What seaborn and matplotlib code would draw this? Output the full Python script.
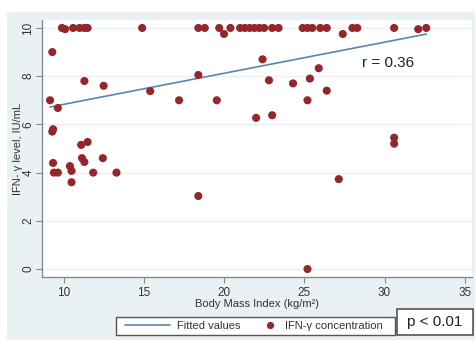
import numpy as np
import pandas as pd
import matplotlib
matplotlib.use("Agg")
import matplotlib.pyplot as plt
from matplotlib.patches import Rectangle
from matplotlib.lines import Line2D
from matplotlib.legend_handler import HandlerBase
import seaborn as sns

# ---- data ----
bmi = [9.9, 10.1, 10.6, 11.0, 11.3, 11.5, 14.9, 18.4, 18.8, 19.7, 20.0, 20.4, 21.0, 21.3,
       21.6, 21.9, 22.2, 22.5, 23.0, 23.4, 24.9, 25.2, 25.5, 26.0, 26.4, 27.4, 28.0, 28.3,
       30.6, 32.1, 32.6,
       9.3, 9.16, 9.65, 11.3, 12.5, 9.35, 9.3, 11.1, 11.5, 9.35, 11.15, 11.3, 12.45, 10.4,
       10.5, 9.4, 9.65, 11.85, 13.3, 10.5, 18.4, 15.4, 17.2, 18.4, 19.55, 22.4, 25.9, 22.8,
       24.3, 25.35, 26.4, 25.2, 22.0, 23.0, 30.6, 30.6, 27.15, 25.2]
ifn = [10.0, 9.95, 10.0, 10.0, 10.0, 10.0, 10.0, 10.0, 10.0, 10.0, 9.75, 10.0, 10.0, 10.0,
       10.0, 10.0, 10.0, 10.0, 10.0, 10.0, 10.0, 10.0, 10.0, 10.0, 10.0, 9.75, 10.0, 10.0,
       10.0, 9.95, 10.0,
       9.0, 7.0, 6.68, 7.8, 7.6, 5.8, 5.7, 5.15, 5.27, 4.4, 4.6, 4.44, 4.6, 4.27,
       4.07, 4.0, 4.0, 4.0, 4.0, 3.6, 3.03, 7.38, 7.0, 8.05, 7.0, 8.7, 8.33, 7.83,
       7.7, 7.9, 7.4, 7.0, 6.27, 6.38, 5.45, 5.2, 3.73, 0.0]
# fitted line
fit_intercept = 5.54
fit_slope = 0.129
x_ticks = [10, 15, 20, 25, 30, 35]
y_ticks = [0, 2, 4, 6, 8, 10]
legend_labels = ["Fitted values", "IFN-γ concentration"]
r_label = "r = 0.36"
p_label = "p < 0.01"

df = pd.DataFrame({"bmi": bmi, "ifn": ifn})
fit = pd.DataFrame({"bmi": [df["bmi"].min(), df["bmi"].max()]})
fit["ifn"] = fit_intercept + fit_slope * fit["bmi"]

sns.set_theme(style="white")
plt.rcParams["font.family"] = ["Liberation Sans", "DejaVu Sans"]

W, H = 477, 342
fig = plt.figure(figsize=(W / 100, H / 100), dpi=100, facecolor="white")
bg = Rectangle((7 / W, 2 / H), 468 / W, 328 / H, transform=fig.transFigure,
               facecolor="#eaf1f4", edgecolor="none", zorder=-10)
fig.patches.append(bg)

ax = fig.add_axes([42 / W, 1 - 277 / H, 430 / W, 257 / H])
ax.set_facecolor("white")

dot_color = "#94262c"
line_color = "#5a86ad"

for yv in y_ticks:
    ax.axhline(yv, color="#e8f0f3", lw=1.0, zorder=0)

sns.lineplot(data=fit, x="bmi", y="ifn", ax=ax, color=line_color, lw=1.2, zorder=2)
sns.scatterplot(data=df, x="bmi", y="ifn", ax=ax, color=dot_color, s=34,
                edgecolor="none", zorder=3)

ax.set_xlim(8.66, 35.45)
ax.set_ylim(-0.33, 10.33)
ax.set_xticks(x_ticks)
ax.set_yticks(y_ticks)
ax.set_xticklabels([str(t) for t in x_ticks], fontsize=8.5, color="#333333")
ax.set_yticklabels([str(t) for t in y_ticks], fontsize=8.5, color="#333333",
                   rotation=90, va="center")
ax.tick_params(axis="both", direction="out", length=4, width=0.8, color="#888888",
               bottom=True, left=True)
ax.tick_params(axis="y", pad=1.5)
ax.tick_params(axis="x", pad=3)
for s in ["top", "right"]:
    ax.spines[s].set_visible(False)
for s in ["left", "bottom"]:
    ax.spines[s].set_color("#8a8a8a")
    ax.spines[s].set_linewidth(1.0)

ax.set_xlabel("Body Mass Index (kg/m²)", fontsize=8, color="#333333", labelpad=0)
ax.set_ylabel("IFN- γ level, IU/mL", fontsize=8, color="#333333", labelpad=-0.5)

ax.text(28.6, 8.55, r_label, fontsize=11, color="#222222", va="center", ha="left")


class LongLineHandler(HandlerBase):
    """Line key that reaches further left than its (short) handle box."""
    def create_artists(self, legend, orig_handle, xdescent, ydescent, width, height,
                       fontsize, trans):
        yc = height / 2 - ydescent
        ln = Line2D([width - 32.4, width], [yc, yc], color=line_color, lw=1.2,
                    transform=trans)
        return [ln]


class DotHandler(HandlerBase):
    def create_artists(self, legend, orig_handle, xdescent, ydescent, width, height,
                       fontsize, trans):
        m = Line2D([width / 2 - xdescent], [height / 2 - ydescent], marker="o",
                   ls="none", markerfacecolor=dot_color, markeredgecolor="none",
                   markersize=5.2, transform=trans)
        return [m]


# legend frame (drawn at the reference position)
lbox = Rectangle((116 / W, 1 - 335 / H), 279 / W, 18 / H, transform=fig.transFigure,
                 facecolor="white", edgecolor="#555555", lw=1.0, zorder=5)
fig.patches.append(lbox)

line_handle = Line2D([0], [0], color=line_color, lw=1.2)
dot_handle = Line2D([0], [0], marker="o", color="none", markerfacecolor=dot_color)
leg = fig.legend([line_handle, dot_handle], legend_labels,
                 ncol=2, loc="center left",
                 bbox_to_anchor=(154.4 / W, 1 - 326 / H),
                 fontsize=8, frameon=False, borderaxespad=0, borderpad=0,
                 handlelength=1.4, handletextpad=0.6, columnspacing=2.03,
                 handler_map={line_handle: LongLineHandler(), dot_handle: DotHandler()})
leg.set_zorder(6)
for t in leg.get_texts():
    t.set_color("#333333")

pbox = Rectangle((397 / W, 1 - 335 / H), 76 / W, 26 / H, transform=fig.transFigure,
                 facecolor="white", edgecolor="#555555", lw=1.2, zorder=5)
fig.patches.append(pbox)
fig.text(435 / W, 1 - 322 / H, p_label, fontsize=11, color="#222222",
         ha="center", va="center", zorder=6)

fig.savefig("out.png", dpi=100, facecolor="white")
